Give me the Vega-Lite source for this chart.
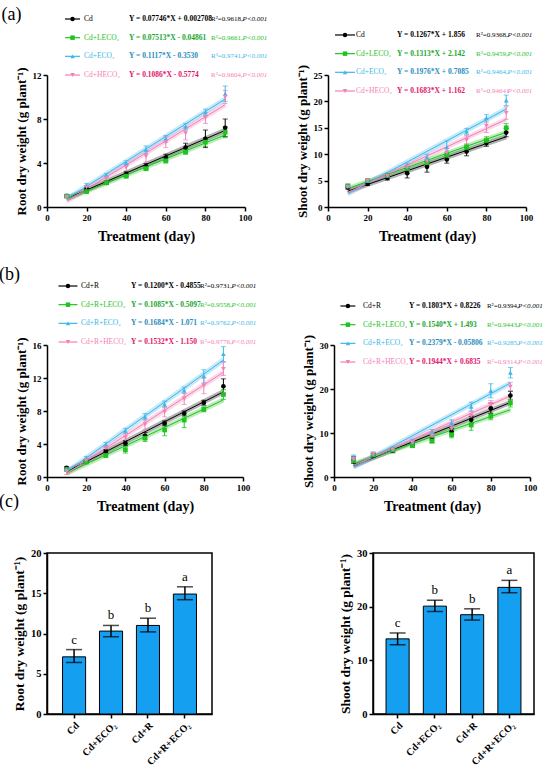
{
  "$schema": "https://vega.github.io/schema/vega-lite/v6.json",
  "padding": {"left": -4, "top": 5, "right": 0, "bottom": 0},
  "background": "white",
  "datasets": {
    "curves": [
      {"p":"aL","g":"base","x":10,"y":1.0,"e":0.1},{"p":"aL","g":"base","x":20,"y":1.6,"e":0.1},{"p":"aL","g":"base","x":30,"y":2.2,"e":0.15},{"p":"aL","g":"base","x":40,"y":3.0,"e":0.2},{"p":"aL","g":"base","x":50,"y":3.7,"e":0.25},{"p":"aL","g":"base","x":60,"y":4.5,"e":0.3},{"p":"aL","g":"base","x":70,"y":5.4,"e":0.4},{"p":"aL","g":"base","x":80,"y":6.2,"e":0.8},{"p":"aL","g":"base","x":90,"y":7.2,"e":0.8},
      {"p":"aL","g":"L","x":10,"y":1.0,"e":0.1},{"p":"aL","g":"L","x":20,"y":1.4,"e":0.1},{"p":"aL","g":"L","x":30,"y":2.2,"e":0.15},{"p":"aL","g":"L","x":40,"y":2.8,"e":0.15},{"p":"aL","g":"L","x":50,"y":3.5,"e":0.2},{"p":"aL","g":"L","x":60,"y":4.2,"e":0.2},{"p":"aL","g":"L","x":70,"y":5.0,"e":0.2},{"p":"aL","g":"L","x":80,"y":5.9,"e":0.4},{"p":"aL","g":"L","x":90,"y":6.8,"e":0.5},
      {"p":"aL","g":"E","x":10,"y":1.0,"e":0.1},{"p":"aL","g":"E","x":20,"y":2.0,"e":0.15},{"p":"aL","g":"E","x":30,"y":2.9,"e":0.15},{"p":"aL","g":"E","x":40,"y":4.0,"e":0.2},{"p":"aL","g":"E","x":50,"y":5.2,"e":0.35},{"p":"aL","g":"E","x":60,"y":6.2,"e":0.3},{"p":"aL","g":"E","x":70,"y":7.3,"e":0.3},{"p":"aL","g":"E","x":80,"y":8.6,"e":0.3},{"p":"aL","g":"E","x":90,"y":10.3,"e":0.7},
      {"p":"aL","g":"H","x":10,"y":0.9,"e":0.1},{"p":"aL","g":"H","x":20,"y":1.8,"e":0.15},{"p":"aL","g":"H","x":30,"y":2.6,"e":0.2},{"p":"aL","g":"H","x":40,"y":3.6,"e":0.3},{"p":"aL","g":"H","x":50,"y":4.6,"e":0.5},{"p":"aL","g":"H","x":60,"y":5.9,"e":0.5},{"p":"aL","g":"H","x":70,"y":6.7,"e":0.6},{"p":"aL","g":"H","x":80,"y":8.1,"e":0.5},{"p":"aL","g":"H","x":90,"y":10.0,"e":0.6},
      {"p":"aR","g":"base","x":10,"y":3.7,"e":0.3},{"p":"aR","g":"base","x":20,"y":4.4,"e":0.3},{"p":"aR","g":"base","x":30,"y":5.5,"e":0.4},{"p":"aR","g":"base","x":40,"y":6.4,"e":0.9},{"p":"aR","g":"base","x":50,"y":7.6,"e":1.0},{"p":"aR","g":"base","x":60,"y":9.0,"e":0.7},{"p":"aR","g":"base","x":70,"y":10.5,"e":0.8},{"p":"aR","g":"base","x":80,"y":12.1,"e":0.6},{"p":"aR","g":"base","x":90,"y":14.1,"e":0.8},
      {"p":"aR","g":"L","x":10,"y":4.0,"e":0.3},{"p":"aR","g":"L","x":20,"y":5.0,"e":0.3},{"p":"aR","g":"L","x":30,"y":6.0,"e":0.3},{"p":"aR","g":"L","x":40,"y":7.3,"e":0.4},{"p":"aR","g":"L","x":50,"y":8.4,"e":0.5},{"p":"aR","g":"L","x":60,"y":9.8,"e":0.6},{"p":"aR","g":"L","x":70,"y":11.3,"e":0.6},{"p":"aR","g":"L","x":80,"y":12.6,"e":0.7},{"p":"aR","g":"L","x":90,"y":15.0,"e":0.8},
      {"p":"aR","g":"E","x":10,"y":4.0,"e":0.3},{"p":"aR","g":"E","x":20,"y":5.0,"e":0.3},{"p":"aR","g":"E","x":30,"y":6.0,"e":0.4},{"p":"aR","g":"E","x":40,"y":7.8,"e":0.5},{"p":"aR","g":"E","x":50,"y":9.4,"e":0.6},{"p":"aR","g":"E","x":60,"y":11.3,"e":1.2},{"p":"aR","g":"E","x":70,"y":14.3,"e":0.6},{"p":"aR","g":"E","x":80,"y":16.8,"e":0.7},{"p":"aR","g":"E","x":90,"y":20.2,"e":1.0},
      {"p":"aR","g":"H","x":10,"y":3.8,"e":0.3},{"p":"aR","g":"H","x":20,"y":5.0,"e":0.3},{"p":"aR","g":"H","x":30,"y":5.9,"e":0.4},{"p":"aR","g":"H","x":40,"y":7.5,"e":0.5},{"p":"aR","g":"H","x":50,"y":8.6,"e":0.7},{"p":"aR","g":"H","x":60,"y":10.3,"e":0.8},{"p":"aR","g":"H","x":70,"y":12.7,"e":0.8},{"p":"aR","g":"H","x":80,"y":15.4,"e":1.3},{"p":"aR","g":"H","x":90,"y":17.8,"e":1.2},
      {"p":"bL","g":"base","x":10,"y":1.1,"e":0.15},{"p":"bL","g":"base","x":20,"y":1.9,"e":0.15},{"p":"bL","g":"base","x":30,"y":3.1,"e":0.2},{"p":"bL","g":"base","x":40,"y":4.1,"e":0.3},{"p":"bL","g":"base","x":50,"y":5.0,"e":0.4},{"p":"bL","g":"base","x":60,"y":6.5,"e":0.3},{"p":"bL","g":"base","x":70,"y":7.7,"e":0.3},{"p":"bL","g":"base","x":80,"y":9.0,"e":0.3},{"p":"bL","g":"base","x":90,"y":11.0,"e":0.9},
      {"p":"bL","g":"L","x":10,"y":0.9,"e":0.1},{"p":"bL","g":"L","x":20,"y":1.8,"e":0.15},{"p":"bL","g":"L","x":30,"y":2.6,"e":0.2},{"p":"bL","g":"L","x":40,"y":3.3,"e":0.4},{"p":"bL","g":"L","x":50,"y":4.7,"e":0.4},{"p":"bL","g":"L","x":60,"y":5.7,"e":0.7},{"p":"bL","g":"L","x":70,"y":6.9,"e":0.9},{"p":"bL","g":"L","x":80,"y":8.2,"e":0.3},{"p":"bL","g":"L","x":90,"y":10.0,"e":0.6},
      {"p":"bL","g":"E","x":10,"y":1.0,"e":0.1},{"p":"bL","g":"E","x":20,"y":2.3,"e":0.2},{"p":"bL","g":"E","x":30,"y":3.9,"e":0.3},{"p":"bL","g":"E","x":40,"y":5.6,"e":0.3},{"p":"bL","g":"E","x":50,"y":7.3,"e":0.4},{"p":"bL","g":"E","x":60,"y":8.8,"e":0.4},{"p":"bL","g":"E","x":70,"y":10.5,"e":0.4},{"p":"bL","g":"E","x":80,"y":12.2,"e":0.8},{"p":"bL","g":"E","x":90,"y":14.9,"e":0.9},
      {"p":"bL","g":"H","x":10,"y":0.7,"e":0.4},{"p":"bL","g":"H","x":20,"y":2.0,"e":0.2},{"p":"bL","g":"H","x":30,"y":3.5,"e":0.3},{"p":"bL","g":"H","x":40,"y":4.8,"e":0.5},{"p":"bL","g":"H","x":50,"y":6.4,"e":0.6},{"p":"bL","g":"H","x":60,"y":7.9,"e":0.6},{"p":"bL","g":"H","x":70,"y":9.5,"e":0.7},{"p":"bL","g":"H","x":80,"y":11.1,"e":1.0},{"p":"bL","g":"H","x":90,"y":13.1,"e":0.8},
      {"p":"bR","g":"base","x":10,"y":3.9,"e":0.8},{"p":"bR","g":"base","x":20,"y":4.9,"e":0.4},{"p":"bR","g":"base","x":30,"y":6.0,"e":0.5},{"p":"bR","g":"base","x":40,"y":7.2,"e":0.5},{"p":"bR","g":"base","x":50,"y":8.4,"e":0.5},{"p":"bR","g":"base","x":60,"y":10.3,"e":0.7},{"p":"bR","g":"base","x":70,"y":13.0,"e":0.8},{"p":"bR","g":"base","x":80,"y":15.6,"e":1.2},{"p":"bR","g":"base","x":90,"y":18.5,"e":1.0},
      {"p":"bR","g":"L","x":10,"y":3.8,"e":0.5},{"p":"bR","g":"L","x":20,"y":5.0,"e":0.4},{"p":"bR","g":"L","x":30,"y":6.1,"e":0.4},{"p":"bR","g":"L","x":40,"y":7.1,"e":0.4},{"p":"bR","g":"L","x":50,"y":8.2,"e":0.5},{"p":"bR","g":"L","x":60,"y":9.6,"e":0.7},{"p":"bR","g":"L","x":70,"y":11.8,"e":1.2},{"p":"bR","g":"L","x":80,"y":13.8,"e":0.8},{"p":"bR","g":"L","x":90,"y":16.8,"e":0.9},
      {"p":"bR","g":"E","x":10,"y":4.4,"e":0.6},{"p":"bR","g":"E","x":20,"y":5.3,"e":0.4},{"p":"bR","g":"E","x":30,"y":6.4,"e":0.4},{"p":"bR","g":"E","x":40,"y":8.0,"e":0.6},{"p":"bR","g":"E","x":50,"y":10.2,"e":0.6},{"p":"bR","g":"E","x":60,"y":12.3,"e":0.7},{"p":"bR","g":"E","x":70,"y":16.0,"e":1.0},{"p":"bR","g":"E","x":80,"y":19.6,"e":1.6},{"p":"bR","g":"E","x":90,"y":23.7,"e":1.2},
      {"p":"bR","g":"H","x":10,"y":4.0,"e":0.5},{"p":"bR","g":"H","x":20,"y":5.2,"e":0.4},{"p":"bR","g":"H","x":30,"y":6.2,"e":0.4},{"p":"bR","g":"H","x":40,"y":7.8,"e":0.5},{"p":"bR","g":"H","x":50,"y":9.4,"e":0.6},{"p":"bR","g":"H","x":60,"y":11.0,"e":0.7},{"p":"bR","g":"H","x":70,"y":14.0,"e":0.9},{"p":"bR","g":"H","x":80,"y":16.5,"e":0.9},{"p":"bR","g":"H","x":90,"y":20.5,"e":1.0}
    ],
    "legend": [
      {"p":"aL","g":"base","label":"Cd","eq":"Y = 0.07746*X + 0.002708","r2":"R²=0.9618,","pv":"P<0.001"},
      {"p":"aL","g":"L","label":"Cd+LECO₂","eq":"Y = 0.07513*X - 0.04861","r2":"R²=0.9661,","pv":"P<0.001"},
      {"p":"aL","g":"E","label":"Cd+ECO₂","eq":"Y = 0.1117*X - 0.3530","r2":"R²=0.9741,","pv":"P<0.001"},
      {"p":"aL","g":"H","label":"Cd+HECO₂","eq":"Y = 0.1086*X - 0.5774","r2":"R²=0.9604,","pv":"P<0.001"},
      {"p":"aR","g":"base","label":"Cd","eq":"Y = 0.1267*X + 1.856","r2":"R²=0.9368,","pv":"P<0.001"},
      {"p":"aR","g":"L","label":"Cd+LECO₂","eq":"Y = 0.1313*X + 2.142","r2":"R²=0.9459,","pv":"P<0.001"},
      {"p":"aR","g":"E","label":"Cd+ECO₂","eq":"Y = 0.1976*X + 0.7085","r2":"R²=0.9464,","pv":"P<0.001"},
      {"p":"aR","g":"H","label":"Cd+HECO₂","eq":"Y = 0.1683*X + 1.162","r2":"R²=0.94641","pv":"P<0.001"},
      {"p":"bL","g":"base","label":"Cd+R","eq":"Y = 0.1200*X - 0.4855","r2":"R²=0.9731,","pv":"P<0.001"},
      {"p":"bL","g":"L","label":"Cd+R+LECO₂","eq":"Y = 0.1085*X - 0.5097","r2":"R²=0.9558,","pv":"P<0.001"},
      {"p":"bL","g":"E","label":"Cd+R+ECO₂","eq":"Y = 0.1684*X - 1.071","r2":"R²=0.9762,","pv":"P<0.001"},
      {"p":"bL","g":"H","label":"Cd+R+HECO₂","eq":"Y = 0.1532*X - 1.150","r2":"R²=0.9776,","pv":"P<0.001"},
      {"p":"bR","g":"base","label":"Cd+R","eq":"Y = 0.1803*X + 0.8226","r2":"R²=0.9394,","pv":"P<0.001"},
      {"p":"bR","g":"L","label":"Cd+R+LECO₂","eq":"Y = 0.1540*X + 1.493","r2":"R²=0.9443,","pv":"P<0.001"},
      {"p":"bR","g":"E","label":"Cd+R+ECO₂","eq":"Y = 0.2379*X - 0.05806","r2":"R²=0.9285,","pv":"P<0.001"},
      {"p":"bR","g":"H","label":"Cd+R+HECO₂","eq":"Y = 0.1944*X + 0.6835","r2":"R²=0.9314,","pv":"P<0.001"}
    ],
    "bars": [
      {"p":"root","trt":"Cd","y":7.1,"lo":6.4,"hi":8.0,"sig":"c"},
      {"p":"root","trt":"Cd+ECO₂","y":10.3,"lo":9.6,"hi":11.0,"sig":"b"},
      {"p":"root","trt":"Cd+R","y":11.0,"lo":10.2,"hi":11.9,"sig":"b"},
      {"p":"root","trt":"Cd+R+ECO₂","y":14.9,"lo":14.2,"hi":15.8,"sig":"a"},
      {"p":"shoot","trt":"Cd","y":14.0,"lo":12.9,"hi":15.1,"sig":"c"},
      {"p":"shoot","trt":"Cd+ECO₂","y":20.1,"lo":19.1,"hi":21.2,"sig":"b"},
      {"p":"shoot","trt":"Cd+R","y":18.5,"lo":17.5,"hi":19.6,"sig":"b"},
      {"p":"shoot","trt":"Cd+R+ECO₂","y":23.6,"lo":22.6,"hi":24.9,"sig":"a"}
    ],
    "tags": [{"t":"(a)"},{"t":"(b)"},{"t":"(c)"}]
  },
  "spacing": 22,
  "vconcat": [
    {
      "hconcat": [
        {
          "width": 198, "height": 132,
          "resolve": {"scale": {"x": "independent", "y": "independent"}},
          "layer": [
            {
              "data": {"name": "curves"},
              "transform": [{"filter": "datum.p == 'aL'"}],
              "encoding": {
                "x": {"field": "x", "type": "quantitative", "scale": {"domain": [0, 100], "nice": false}, "axis": {"values": [0, 20, 40, 60, 80, 100], "title": "Treatment (day)", "labelFlush": false, "labelBound": false, "labelOverlap": false}},
                "y": {"field": "y", "type": "quantitative", "scale": {"domain": [0, 12], "nice": false}, "axis": {"values": [0, 4, 8, 12], "title": "Root dry weight  (g plant⁻¹)"}},
                "color": {"field": "g", "type": "nominal", "scale": {"domain": ["base", "L", "E", "H"], "range": ["#000000", "#1ec31e", "#3db7ea", "#f47fb7"]}, "legend": null}
              },
              "layer": [
                {"transform": [{"regression": "y", "on": "x", "groupby": ["g"]}], "mark": {"type": "line", "strokeWidth": 5, "opacity": 0.3}},
                {"transform": [{"regression": "y", "on": "x", "groupby": ["g"]}], "mark": {"type": "line", "strokeWidth": 1}},
                {"mark": {"type": "errorbar", "thickness": 1, "ticks": {"size": 5, "thickness": 1}}, "encoding": {"yError": {"field": "e"}}},
                {"mark": {"type": "point", "filled": true, "size": 22, "opacity": 1}, "encoding": {"shape": {"field": "g", "type": "nominal", "scale": {"domain": ["base", "L", "E", "H"], "range": ["circle", "square", "triangle-up", "triangle-down"]}, "legend": null}}}
              ]
            },
            {
              "data": {"name": "tags"},
              "transform": [{"filter": "datum.t == '(a)'"}],
              "mark": {"type": "text", "align": "left", "baseline": "middle", "fontSize": 18},
              "encoding": {
                "x": {"datum": -23, "type": "quantitative", "scale": {"domain": [0, 100], "nice": false}, "axis": null},
                "y": {"datum": 17.5, "type": "quantitative", "scale": {"domain": [0, 12], "nice": false}, "axis": null},
                "text": {"field": "t"}
              }
            },
            {
              "data": {"name": "legend"},
              "transform": [{"filter": "datum.p == 'aL'"}],
              "encoding": {
                "x": {"datum": 12.9, "type": "quantitative", "scale": {"domain": [0, 100], "nice": false}, "axis": null},
                "y": {"datum": 17.09, "type": "quantitative", "scale": {"domain": [0, 12], "nice": false}, "axis": null},
                "yOffset": {"field": "g", "type": "nominal", "scale": {"type": "point", "domain": ["base", "L", "E", "H"], "range": [0, 56], "padding": 0}},
                "color": {"field": "g", "type": "nominal", "scale": {"domain": ["base", "L", "E", "H"], "range": ["#000000", "#1ec31e", "#3db7ea", "#f47fb7"]}, "legend": null}
              },
              "layer": [
                {"mark": {"type": "point", "shape": "stroke", "size": 225, "strokeWidth": 1.2, "filled": false, "opacity": 1}},
                {"mark": {"type": "point", "filled": true, "size": 20, "opacity": 1}, "encoding": {"shape": {"field": "g", "type": "nominal", "scale": {"domain": ["base", "L", "E", "H"], "range": ["circle", "square", "triangle-up", "triangle-down"]}, "legend": null}}},
                {"mark": {"type": "text", "align": "left", "baseline": "middle", "dx": 11.5, "fontSize": 7.5}, "encoding": {"text": {"field": "label"}}},
                {"mark": {"type": "text", "align": "left", "baseline": "middle", "dx": 56.5, "fontSize": 7.5, "fontWeight": "bold"}, "encoding": {"text": {"field": "eq"}, "fill": {"field": "g", "type": "nominal", "scale": {"domain": ["base", "L", "E", "H"], "range": ["#000000", "#17a832", "#2a8dbd", "#e3126a"]}, "legend": null}}},
                {"mark": {"type": "text", "align": "left", "baseline": "middle", "dx": 138.5, "fontSize": 7}, "encoding": {"text": {"field": "r2"}}},
                {"mark": {"type": "text", "align": "left", "baseline": "middle", "dx": 170, "fontSize": 7, "fontStyle": "italic"}, "encoding": {"text": {"field": "pv"}}}
              ]
            }
          ]
        },
        {
          "width": 198, "height": 132,
          "resolve": {"scale": {"x": "independent", "y": "independent"}},
          "layer": [
            {
              "data": {"name": "curves"},
              "transform": [{"filter": "datum.p == 'aR'"}],
              "encoding": {
                "x": {"field": "x", "type": "quantitative", "scale": {"domain": [0, 100], "nice": false}, "axis": {"values": [0, 20, 40, 60, 80, 100], "title": "Treatment (day)", "labelFlush": false, "labelBound": false, "labelOverlap": false}},
                "y": {"field": "y", "type": "quantitative", "scale": {"domain": [0, 25], "nice": false}, "axis": {"values": [0, 5, 10, 15, 20, 25], "title": "Shoot dry weight  (g plant⁻¹)"}},
                "color": {"field": "g", "type": "nominal", "scale": {"domain": ["base", "L", "E", "H"], "range": ["#000000", "#1ec31e", "#3db7ea", "#f47fb7"]}, "legend": null}
              },
              "layer": [
                {"transform": [{"regression": "y", "on": "x", "groupby": ["g"]}], "mark": {"type": "line", "strokeWidth": 5, "opacity": 0.3}},
                {"transform": [{"regression": "y", "on": "x", "groupby": ["g"]}], "mark": {"type": "line", "strokeWidth": 1}},
                {"mark": {"type": "errorbar", "thickness": 1, "ticks": {"size": 5, "thickness": 1}}, "encoding": {"yError": {"field": "e"}}},
                {"mark": {"type": "point", "filled": true, "size": 22, "opacity": 1}, "encoding": {"shape": {"field": "g", "type": "nominal", "scale": {"domain": ["base", "L", "E", "H"], "range": ["circle", "square", "triangle-up", "triangle-down"]}, "legend": null}}}
              ]
            },
            {
              "data": {"name": "legend"},
              "transform": [{"filter": "datum.p == 'aR'"}],
              "encoding": {
                "x": {"datum": 8.6, "type": "quantitative", "scale": {"domain": [0, 100], "nice": false}, "axis": null},
                "y": {"datum": 32.58, "type": "quantitative", "scale": {"domain": [0, 25], "nice": false}, "axis": null},
                "yOffset": {"field": "g", "type": "nominal", "scale": {"type": "point", "domain": ["base", "L", "E", "H"], "range": [0, 56], "padding": 0}},
                "color": {"field": "g", "type": "nominal", "scale": {"domain": ["base", "L", "E", "H"], "range": ["#000000", "#1ec31e", "#3db7ea", "#f47fb7"]}, "legend": null}
              },
              "layer": [
                {"mark": {"type": "point", "shape": "stroke", "size": 400, "strokeWidth": 1.2, "filled": false, "opacity": 1}},
                {"mark": {"type": "point", "filled": true, "size": 20, "opacity": 1}, "encoding": {"shape": {"field": "g", "type": "nominal", "scale": {"domain": ["base", "L", "E", "H"], "range": ["circle", "square", "triangle-up", "triangle-down"]}, "legend": null}}},
                {"mark": {"type": "text", "align": "left", "baseline": "middle", "dx": 11, "fontSize": 7.5}, "encoding": {"text": {"field": "label"}}},
                {"mark": {"type": "text", "align": "left", "baseline": "middle", "dx": 52, "fontSize": 7.5, "fontWeight": "bold"}, "encoding": {"text": {"field": "eq"}, "fill": {"field": "g", "type": "nominal", "scale": {"domain": ["base", "L", "E", "H"], "range": ["#000000", "#17a832", "#2a8dbd", "#e3126a"]}, "legend": null}}},
                {"mark": {"type": "text", "align": "left", "baseline": "middle", "dx": 131, "fontSize": 7}, "encoding": {"text": {"field": "r2"}}},
                {"mark": {"type": "text", "align": "left", "baseline": "middle", "dx": 162.5, "fontSize": 7, "fontStyle": "italic"}, "encoding": {"text": {"field": "pv"}}}
              ]
            }
          ]
        }
      ],
      "bounds": "flush",
      "spacing": 83
    },
    {
      "hconcat": [
        {
          "width": 196, "height": 132,
          "resolve": {"scale": {"x": "independent", "y": "independent"}},
          "layer": [
            {
              "data": {"name": "curves"},
              "transform": [{"filter": "datum.p == 'bL'"}],
              "encoding": {
                "x": {"field": "x", "type": "quantitative", "scale": {"domain": [0, 100], "nice": false}, "axis": {"values": [0, 20, 40, 60, 80, 100], "title": "Treatment (day)", "labelFlush": false, "labelBound": false, "labelOverlap": false}},
                "y": {"field": "y", "type": "quantitative", "scale": {"domain": [0, 16], "nice": false}, "axis": {"values": [0, 4, 8, 12, 16], "title": "Root dry weight  (g plant⁻¹)"}},
                "color": {"field": "g", "type": "nominal", "scale": {"domain": ["base", "L", "E", "H"], "range": ["#000000", "#1ec31e", "#3db7ea", "#f47fb7"]}, "legend": null}
              },
              "layer": [
                {"transform": [{"regression": "y", "on": "x", "groupby": ["g"]}], "mark": {"type": "line", "strokeWidth": 5, "opacity": 0.3}},
                {"transform": [{"regression": "y", "on": "x", "groupby": ["g"]}], "mark": {"type": "line", "strokeWidth": 1}},
                {"mark": {"type": "errorbar", "thickness": 1, "ticks": {"size": 5, "thickness": 1}}, "encoding": {"yError": {"field": "e"}}},
                {"mark": {"type": "point", "filled": true, "size": 22, "opacity": 1}, "encoding": {"shape": {"field": "g", "type": "nominal", "scale": {"domain": ["base", "L", "E", "H"], "range": ["circle", "square", "triangle-up", "triangle-down"]}, "legend": null}}}
              ]
            },
            {
              "data": {"name": "tags"},
              "transform": [{"filter": "datum.t == '(b)'"}],
              "mark": {"type": "text", "align": "left", "baseline": "middle", "fontSize": 18},
              "encoding": {
                "x": {"datum": -24.5, "type": "quantitative", "scale": {"domain": [0, 100], "nice": false}, "axis": null},
                "y": {"datum": 24.5, "type": "quantitative", "scale": {"domain": [0, 16], "nice": false}, "axis": null},
                "text": {"field": "t"}
              }
            },
            {
              "data": {"name": "tags"},
              "transform": [{"filter": "datum.t == '(c)'"}],
              "mark": {"type": "text", "align": "left", "baseline": "middle", "fontSize": 18},
              "encoding": {
                "x": {"datum": -24.5, "type": "quantitative", "scale": {"domain": [0, 100], "nice": false}, "axis": null},
                "y": {"datum": -3.03, "type": "quantitative", "scale": {"domain": [0, 16], "nice": false}, "axis": null},
                "text": {"field": "t"}
              }
            },
            {
              "data": {"name": "legend"},
              "transform": [{"filter": "datum.p == 'bL'"}],
              "encoding": {
                "x": {"datum": 10.7, "type": "quantitative", "scale": {"domain": [0, 100], "nice": false}, "axis": null},
                "y": {"datum": 23.15, "type": "quantitative", "scale": {"domain": [0, 16], "nice": false}, "axis": null},
                "yOffset": {"field": "g", "type": "nominal", "scale": {"type": "point", "domain": ["base", "L", "E", "H"], "range": [0, 54.5], "padding": 0}},
                "color": {"field": "g", "type": "nominal", "scale": {"domain": ["base", "L", "E", "H"], "range": ["#000000", "#1ec31e", "#3db7ea", "#f47fb7"]}, "legend": null}
              },
              "layer": [
                {"mark": {"type": "point", "shape": "stroke", "size": 361, "strokeWidth": 1.2, "filled": false, "opacity": 1}},
                {"mark": {"type": "point", "filled": true, "size": 20, "opacity": 1}, "encoding": {"shape": {"field": "g", "type": "nominal", "scale": {"domain": ["base", "L", "E", "H"], "range": ["circle", "square", "triangle-up", "triangle-down"]}, "legend": null}}},
                {"mark": {"type": "text", "align": "left", "baseline": "middle", "dx": 13, "fontSize": 7.5}, "encoding": {"text": {"field": "label"}}},
                {"mark": {"type": "text", "align": "left", "baseline": "middle", "dx": 63, "fontSize": 7.5, "fontWeight": "bold"}, "encoding": {"text": {"field": "eq"}, "fill": {"field": "g", "type": "nominal", "scale": {"domain": ["base", "L", "E", "H"], "range": ["#000000", "#17a832", "#2a8dbd", "#e3126a"]}, "legend": null}}},
                {"mark": {"type": "text", "align": "left", "baseline": "middle", "dx": 132, "fontSize": 7}, "encoding": {"text": {"field": "r2"}}},
                {"mark": {"type": "text", "align": "left", "baseline": "middle", "dx": 163.5, "fontSize": 7, "fontStyle": "italic"}, "encoding": {"text": {"field": "pv"}}}
              ]
            }
          ]
        },
        {
          "width": 196, "height": 132,
          "resolve": {"scale": {"x": "independent", "y": "independent"}},
          "layer": [
            {
              "data": {"name": "curves"},
              "transform": [{"filter": "datum.p == 'bR'"}],
              "encoding": {
                "x": {"field": "x", "type": "quantitative", "scale": {"domain": [0, 100], "nice": false}, "axis": {"values": [0, 20, 40, 60, 80, 100], "title": "Treatment (day)", "labelFlush": false, "labelBound": false, "labelOverlap": false}},
                "y": {"field": "y", "type": "quantitative", "scale": {"domain": [0, 30], "nice": false}, "axis": {"values": [0, 10, 20, 30], "title": "Shoot dry weight  (g plant⁻¹)"}},
                "color": {"field": "g", "type": "nominal", "scale": {"domain": ["base", "L", "E", "H"], "range": ["#000000", "#1ec31e", "#3db7ea", "#f47fb7"]}, "legend": null}
              },
              "layer": [
                {"transform": [{"regression": "y", "on": "x", "groupby": ["g"]}], "mark": {"type": "line", "strokeWidth": 5, "opacity": 0.3}},
                {"transform": [{"regression": "y", "on": "x", "groupby": ["g"]}], "mark": {"type": "line", "strokeWidth": 1}},
                {"mark": {"type": "errorbar", "thickness": 1, "ticks": {"size": 5, "thickness": 1}}, "encoding": {"yError": {"field": "e"}}},
                {"mark": {"type": "point", "filled": true, "size": 22, "opacity": 1}, "encoding": {"shape": {"field": "g", "type": "nominal", "scale": {"domain": ["base", "L", "E", "H"], "range": ["circle", "square", "triangle-up", "triangle-down"]}, "legend": null}}}
              ]
            },
            {
              "data": {"name": "legend"},
              "transform": [{"filter": "datum.p == 'bR'"}],
              "encoding": {
                "x": {"datum": 7.1, "type": "quantitative", "scale": {"domain": [0, 100], "nice": false}, "axis": null},
                "y": {"datum": 38.86, "type": "quantitative", "scale": {"domain": [0, 30], "nice": false}, "axis": null},
                "yOffset": {"field": "g", "type": "nominal", "scale": {"type": "point", "domain": ["base", "L", "E", "H"], "range": [0, 54.5], "padding": 0}},
                "color": {"field": "g", "type": "nominal", "scale": {"domain": ["base", "L", "E", "H"], "range": ["#000000", "#1ec31e", "#3db7ea", "#f47fb7"]}, "legend": null}
              },
              "layer": [
                {"mark": {"type": "point", "shape": "stroke", "size": 225, "strokeWidth": 1.2, "filled": false, "opacity": 1}},
                {"mark": {"type": "point", "filled": true, "size": 20, "opacity": 1}, "encoding": {"shape": {"field": "g", "type": "nominal", "scale": {"domain": ["base", "L", "E", "H"], "range": ["circle", "square", "triangle-up", "triangle-down"]}, "legend": null}}},
                {"mark": {"type": "text", "align": "left", "baseline": "middle", "dx": 15, "fontSize": 7.5}, "encoding": {"text": {"field": "label"}}},
                {"mark": {"type": "text", "align": "left", "baseline": "middle", "dx": 61, "fontSize": 7.5, "fontWeight": "bold"}, "encoding": {"text": {"field": "eq"}, "fill": {"field": "g", "type": "nominal", "scale": {"domain": ["base", "L", "E", "H"], "range": ["#000000", "#17a832", "#2a8dbd", "#e3126a"]}, "legend": null}}},
                {"mark": {"type": "text", "align": "left", "baseline": "middle", "dx": 139, "fontSize": 7}, "encoding": {"text": {"field": "r2"}}},
                {"mark": {"type": "text", "align": "left", "baseline": "middle", "dx": 170, "fontSize": 7, "fontStyle": "italic"}, "encoding": {"text": {"field": "pv"}}}
              ]
            }
          ]
        }
      ],
      "bounds": "flush",
      "spacing": 91
    },
    {
      "hconcat": [
        {
          "width": 165, "height": 161,
          "view": {"stroke": "black", "strokeWidth": 1.5},
          "layer": [
            {
              "data": {"name": "bars"},
              "transform": [{"filter": "datum.p == 'root'"}],
              "encoding": {
                "x": {"field": "trt", "type": "nominal", "sort": null, "scale": {"paddingInner": 0.375, "paddingOuter": 0.42}, "axis": {"title": null, "labelAngle": -45, "labelFontSize": 10}},
                "y": {"field": "y", "type": "quantitative", "scale": {"domain": [0, 20], "nice": false}, "axis": {"values": [0, 5, 10, 15, 20], "title": "Root dry weight  (g plant⁻¹)", "titleFontSize": 13.5, "labelFontSize": 10.5}}
              },
              "layer": [
                {"mark": {"type": "bar", "fill": "#159ff0", "stroke": "black", "strokeWidth": 1}},
                {"mark": {"type": "errorbar", "color": "black", "thickness": 1.5, "ticks": {"size": 16, "thickness": 1.5}}, "encoding": {"y": {"field": "lo", "type": "quantitative", "scale": {"domain": [0, 20], "nice": false}}, "y2": {"field": "hi"}}},
                {"mark": {"type": "text", "baseline": "bottom", "dy": -3, "fontSize": 13}, "encoding": {"y": {"field": "hi", "type": "quantitative", "scale": {"domain": [0, 20], "nice": false}}, "text": {"field": "sig"}}}
              ]
            },
            {
              "data": {"name": "tags"},
              "transform": [{"filter": "datum.t == '(c)'"}],
              "mark": {"type": "text", "align": "left", "baseline": "top", "fontSize": 18, "opacity": 0, "dx": -77},
              "encoding": {
                "x": {"datum": "Cd", "type": "nominal"},
                "y": {"datum": 22.1, "type": "quantitative"},
                "text": {"field": "t"}
              }
            }
          ]
        },
        {
          "width": 161, "height": 161,
          "view": {"stroke": "black", "strokeWidth": 1.5},
          "data": {"name": "bars"},
          "transform": [{"filter": "datum.p == 'shoot'"}],
          "encoding": {
            "x": {"field": "trt", "type": "nominal", "sort": null, "scale": {"paddingInner": 0.38, "paddingOuter": 0.35}, "axis": {"title": null, "labelAngle": -45, "labelFontSize": 10}},
            "y": {"field": "y", "type": "quantitative", "scale": {"domain": [0, 30], "nice": false}, "axis": {"values": [0, 10, 20, 30], "title": "Shoot dry weight  (g plant⁻¹)", "titleFontSize": 13.5, "labelFontSize": 10.5}}
          },
          "layer": [
            {"mark": {"type": "bar", "fill": "#159ff0", "stroke": "black", "strokeWidth": 1}},
            {"mark": {"type": "errorbar", "color": "black", "thickness": 1.5, "ticks": {"size": 16, "thickness": 1.5}}, "encoding": {"y": {"field": "lo", "type": "quantitative", "scale": {"domain": [0, 30], "nice": false}}, "y2": {"field": "hi"}}},
            {"mark": {"type": "text", "baseline": "bottom", "dy": -3, "fontSize": 13}, "encoding": {"y": {"field": "hi", "type": "quantitative", "scale": {"domain": [0, 30], "nice": false}}, "text": {"field": "sig"}}}
          ]
        }
      ],
      "bounds": "flush",
      "spacing": 161
    }
  ],
  "config": {
    "font": "Liberation Serif",
    "view": {"stroke": null},
    "axis": {"grid": false, "domainColor": "black", "domainWidth": 1.5, "tickColor": "black", "tickWidth": 1.5, "tickSize": 4, "labelFont": "Liberation Serif", "labelFontWeight": "bold", "labelFontSize": 9, "labelColor": "black", "labelPadding": 2, "labelOverlap": false, "titleFont": "Liberation Serif", "titleFontWeight": "bold", "titleColor": "black"},
    "axisX": {"titleFontSize": 14, "titlePadding": 7, "labelFlush": false},
    "axisY": {"titleFontSize": 13, "titlePadding": 4},
    "text": {"font": "Liberation Serif"}
  }
}
